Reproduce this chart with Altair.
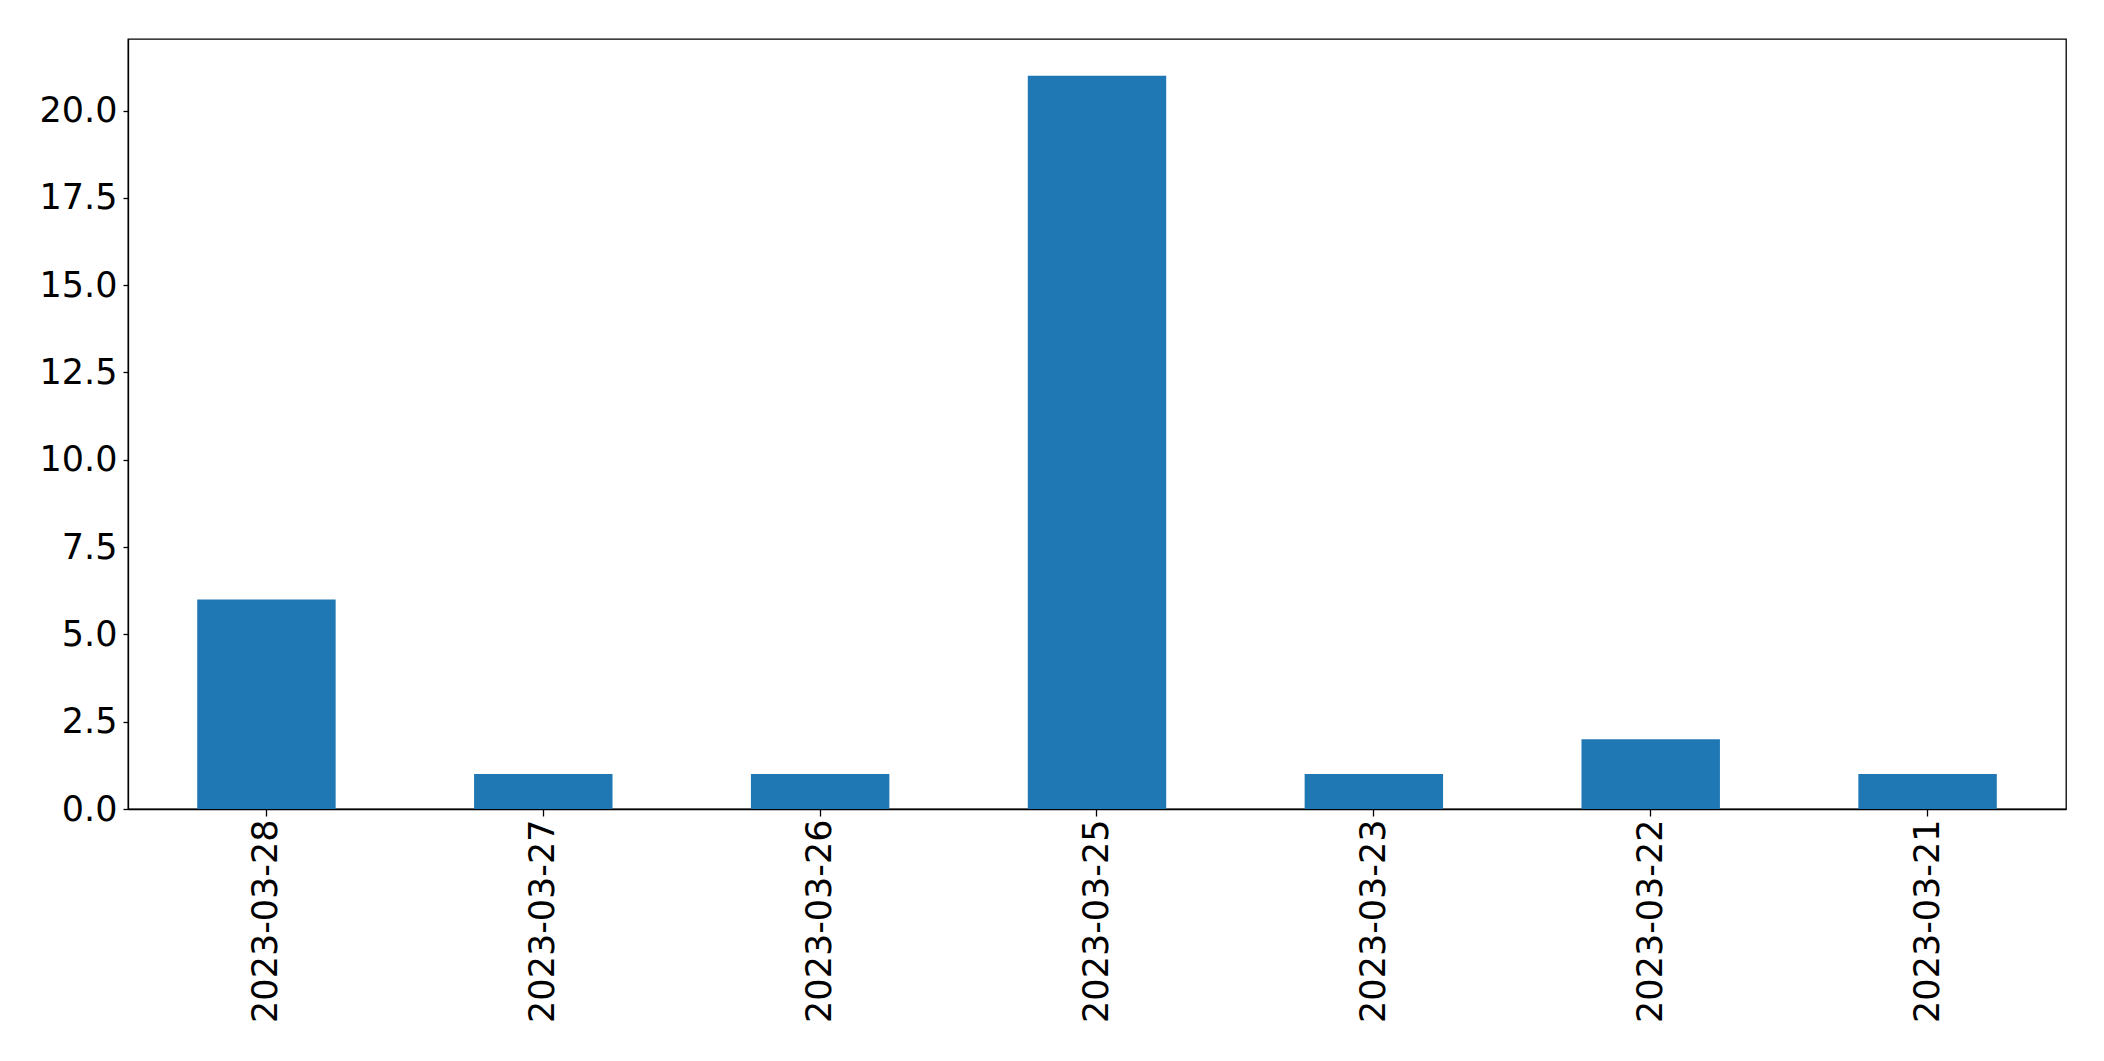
import altair as alt
import pandas as pd

dates = ["2023-03-28", "2023-03-27", "2023-03-26", "2023-03-25", "2023-03-23", "2023-03-22", "2023-03-21"]
counts = [6, 1, 1, 21, 1, 2, 1]
y_ticks = [0, 2.5, 5, 7.5, 10, 12.5, 15, 17.5, 20]

df = pd.DataFrame({"date": dates, "count": counts})

FONT = "DejaVu Sans"

chart = alt.Chart(df).mark_bar(color="#1f77b4").encode(
    x=alt.X("date:N", sort=None, title=None,
            scale=alt.Scale(paddingInner=0.5, paddingOuter=0.25),
            axis=alt.Axis(labelAngle=270, labelFontSize=35, labelFont=FONT, labelColor="black",
                          labelLimit=0, tickColor="black", tickSize=7, labelPadding=3,
                          domainColor="black", domainWidth=1.3, tickWidth=1.3, grid=False)),
    y=alt.Y("count:Q", title=None,
            scale=alt.Scale(domain=[0, 22.05], nice=False, zero=True),
            axis=alt.Axis(values=y_ticks, format=".1f", labelFontSize=35, labelFont=FONT,
                          labelColor="black", tickColor="black", tickSize=5, labelPadding=6,
                          domainColor="black", domainWidth=1.3, tickWidth=1.3, grid=False)),
).properties(
    width=1938, height=770,
    autosize=alt.AutoSizeParams(type="none"),
    padding={"left": 120, "top": 31, "right": 30, "bottom": 240},
).configure_view(
    stroke="black", strokeWidth=1.3
)

chart.save("out.html", embed_options={"renderer": "svg", "actions": False})
